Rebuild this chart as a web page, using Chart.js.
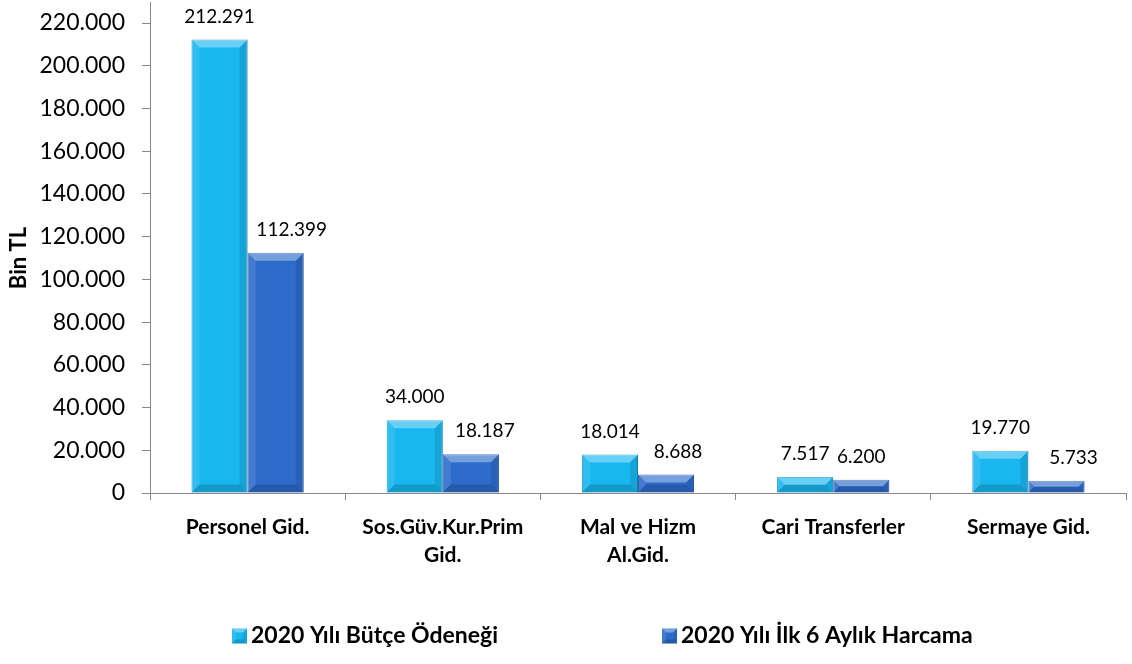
<!DOCTYPE html>
<html>
<head>
<meta charset="utf-8">
<script src="https://cdn.jsdelivr.net/npm/chart.js@4.4.1/dist/chart.umd.min.js"></script>
<style>
  html, body { margin: 0; padding: 0; background: #fff; }
  #wrap { width: 1132px; height: 664px; }
</style>
</head>
<body>
<div id="wrap"><canvas id="chart" width="1132" height="664"></canvas></div>
<script>
// veriler
const kategoriler = ['Personel Gid.', ['Sos.Güv.Kur.Prim', 'Gid.'], ['Mal ve Hizm', 'Al.Gid.'], 'Cari Transferler', 'Sermaye Gid.'];
const butceOdenegi = [212291, 34000, 18014, 7517, 19770];
const ilk6AyHarcama = [112399, 18187, 8688, 6200, 5733];
const seriAdlari = ['2020 Yılı Bütçe Ödeneği', '2020 Yılı İlk 6 Aylık Harcama'];
const yEksenAdi = 'Bin TL';
const yMax = 220000;
const yAdim = 20000;

// görünüm
const renkler = ['#19B7F0', '#2D6CCB'];
const kenarRenkleri = ['#0F8EC6', '#1E4E9C'];
const etiketKaydirma = [[0, 0, 0, 0, 0], [16, 14, 12, 0, 17]];
const aciklamaX = [82, 512]; // kutuların çizim alanı soluna göre yeri
const yazi = 'Lato, "Open Sans", sans-serif';

// binlik ayraç nokta
function bicimle(v) {
    return String(v).replace(/\B(?=(\d{3})+(?!\d))/g, '.');
}

// kabartma (bevel) kenarları
function bevelCiz(ctx, x0, x1, top, bot, b) {
    ctx.save();
    ctx.fillStyle = 'rgba(255,255,255,0.35)';
    ctx.beginPath();
    ctx.moveTo(x0, top); ctx.lineTo(x1, top); ctx.lineTo(x1 - b, top + b); ctx.lineTo(x0 + b, top + b);
    ctx.closePath(); ctx.fill();
    ctx.fillStyle = 'rgba(255,255,255,0.10)';
    ctx.beginPath();
    ctx.moveTo(x0, top); ctx.lineTo(x0 + b, top + b); ctx.lineTo(x0 + b, bot - b); ctx.lineTo(x0, bot);
    ctx.closePath(); ctx.fill();
    ctx.fillStyle = 'rgba(0,0,0,0.10)';
    ctx.beginPath();
    ctx.moveTo(x1, top); ctx.lineTo(x1 - b, top + b); ctx.lineTo(x1 - b, bot - b); ctx.lineTo(x1, bot);
    ctx.closePath(); ctx.fill();
    ctx.fillStyle = 'rgba(0,0,0,0.16)';
    ctx.beginPath();
    ctx.moveTo(x0, bot); ctx.lineTo(x1, bot); ctx.lineTo(x1 - b, bot - b); ctx.lineTo(x0 + b, bot - b);
    ctx.closePath(); ctx.fill();
    ctx.restore();
}

const bevelPlugin = {
    id: 'bevel',
    afterDatasetsDraw(chart) {
        const ctx = chart.ctx;
        chart.data.datasets.forEach((ds, i) => {
            const meta = chart.getDatasetMeta(i);
            meta.data.forEach(el => {
                const p = el.getProps(['x', 'y', 'base', 'width'], true);
                const x0 = p.x - p.width / 2, x1 = p.x + p.width / 2;
                const h = p.base - p.y;
                const b = Math.min(8, h / 2, p.width / 2);
                bevelCiz(ctx, x0, x1, p.y, p.base, b);
            });
        });
    }
};

const etiketPlugin = {
    id: 'degerEtiketleri',
    afterDatasetsDraw(chart) {
        const ctx = chart.ctx;
        ctx.save();
        ctx.font = '19px ' + yazi;
        ctx.fillStyle = '#000';
        ctx.textAlign = 'center';
        ctx.textBaseline = 'middle';
        chart.data.datasets.forEach((ds, i) => {
            const meta = chart.getDatasetMeta(i);
            meta.data.forEach((el, j) => {
                ctx.fillText(bicimle(ds.data[j]), el.x + etiketKaydirma[i][j], el.y - 23);
            });
        });
        ctx.restore();
    }
};

// alt açıklama (legend)
const aciklamaPlugin = {
    id: 'aciklama',
    afterDraw(chart) {
        const ctx = chart.ctx;
        const area = chart.chartArea;
        const y = 636;
        const kutu = 15;
        ctx.save();
        ctx.font = 'bold 23px ' + yazi;
        ctx.textBaseline = 'middle';
        ctx.textAlign = 'left';
        seriAdlari.forEach((ad, i) => {
            const x = area.left + aciklamaX[i];
            ctx.fillStyle = renkler[i];
            ctx.fillRect(x, y - kutu / 2, kutu, kutu);
            bevelCiz(ctx, x, x + kutu, y - kutu / 2, y + kutu / 2, 4);
            ctx.fillStyle = '#000';
            ctx.fillText(ad, x + kutu + 4, y);
        });
        // y ekseni üst uzantısı
        ctx.strokeStyle = '#888';
        ctx.lineWidth = 1;
        ctx.beginPath();
        ctx.moveTo(area.left + 0.5, area.top);
        ctx.lineTo(area.left + 0.5, 2);
        ctx.stroke();
        ctx.restore();
    }
};

new Chart(document.getElementById('chart'), {
    type: 'bar',
    data: {
        labels: kategoriler,
        datasets: [{
            label: seriAdlari[0],
            data: butceOdenegi,
            backgroundColor: renkler[0],
            borderColor: kenarRenkleri[0],
            borderWidth: 1,
            barPercentage: 1,
            categoryPercentage: 0.575
        }, {
            label: seriAdlari[1],
            data: ilk6AyHarcama,
            backgroundColor: renkler[1],
            borderColor: kenarRenkleri[1],
            borderWidth: 1,
            barPercentage: 1,
            categoryPercentage: 0.575
        }]
    },
    options: {
        responsive: false,
        animation: false,
        devicePixelRatio: 1,
        layout: { padding: { top: 23, right: 6, bottom: 91, left: 0 } },
        plugins: {
            legend: { display: false },
            tooltip: { enabled: false }
        },
        scales: {
            x: {
                grid: { drawOnChartArea: false, tickLength: 7, color: '#888' },
                border: { color: '#888' },
                ticks: {
                    color: '#000',
                    font: { family: yazi, size: 21, weight: 'bold', lineHeight: 1.3 },
                    padding: 14,
                    maxRotation: 0,
                    autoSkip: false
                },
                afterFit(scale) { scale.height = 80; }
            },
            y: {
                min: 0,
                max: yMax,
                grid: { drawOnChartArea: false, tickLength: 8, color: '#888' },
                border: { color: '#888' },
                ticks: {
                    stepSize: yAdim,
                    color: '#000',
                    font: { family: yazi, size: 23 },
                    padding: 17,
                    callback: v => bicimle(v)
                },
                title: {
                    display: true,
                    text: yEksenAdi,
                    color: '#000',
                    font: { family: yazi, size: 22, weight: 'bold' },
                    padding: { top: 6, bottom: 0 }
                },
                afterFit(scale) {
                    scale.width = 150;
                    scale.paddingTop = 0;
                    scale.paddingBottom = 0;
                }
            }
        }
    },
    plugins: [bevelPlugin, etiketPlugin, aciklamaPlugin]
});
</script>
</body>
</html>
